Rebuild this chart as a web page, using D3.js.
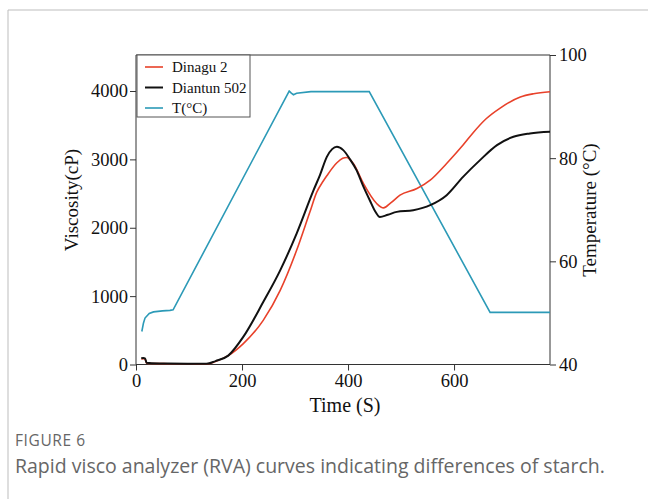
<!DOCTYPE html>
<html><head><meta charset="utf-8">
<script src="https://cdn.jsdelivr.net/npm/d3@7/dist/d3.min.js"></script>
<style>body{margin:0;background:#fff;} svg{display:block;}</style>
</head><body>
<svg id="chart" width="648" height="499"></svg>
<script>
// ---- data ----
const seriesNames = ["Dinagu 2", "Diantun 502", "T(\u00B0C)"];
const xTicks = [0, 200, 400, 600];
const yViscTicks = [0, 1000, 2000, 3000, 4000];
const yTempTicks = [40, 60, 80, 100];

const dinaguTime = [10,14,17,20,30,60,100,133,150,174,202,240,272,303,328,341,353,360,379,390,397,410,429,454,467,480,498,530,555,586,617,636,660,687,725,750,781];
const dinaguVisc = [80,85,80,20,15,12,10,8,45,130,302,645,1084,1670,2230,2520,2680,2760,2950,3015,3028,2940,2648,2355,2290,2360,2476,2573,2696,2940,3209,3390,3590,3750,3912,3960,3990];

const diantunTime = [10,14,17,20,30,60,100,133,150,174,202,240,272,303,335,347,360,370,379,391,403,416,428,441,452,460,475,492,523,555,586,617,649,681,712,743,781];
const diantunVisc = [90,95,90,25,18,15,12,10,50,130,400,913,1377,1915,2550,2770,3037,3150,3184,3135,3010,2842,2620,2403,2230,2158,2190,2232,2256,2330,2476,2744,2989,3209,3330,3379,3404];

const tempTime = [11,14,17,25,33,50,64,70,289,293,297,303,330,440,668,781];
const tempVal  = [46.4,48,49,49.9,50.2,50.4,50.5,50.6,93.0,92.6,92.3,92.6,92.9,92.9,50.1,50.1];

const colors = ["#e8412a", "#111111", "#2c9ab7"];

// ---- layout ----
const svg = d3.select("#chart");
const L = 136, R = 550, T = 55, B = 364.5;
const x = d3.scaleLinear().domain([0, 781]).range([L, R]);
const yV = d3.scaleLinear().domain([0, 4000]).range([B, 91]);
const yT = d3.scaleLinear().domain([40, 100]).range([B, T]);

// outer frame
svg.append("path").attr("d", "M8,499 L8,10 L648,10").attr("fill","none").attr("stroke","#bdbdbd").attr("stroke-width",1);

const serif = "'Liberation Serif','Times New Roman',serif";
const fmt = d3.format("d");

// top frame line
svg.append("line").attr("x1", L).attr("x2", R).attr("y1", T).attr("y2", T).attr("stroke","#333").attr("stroke-width",1);

// axes
const ax = svg.append("g").attr("transform", `translate(0,${B})`)
  .call(d3.axisBottom(x).tickValues(xTicks).tickFormat(fmt).tickSize(6).tickPadding(3));
const ayl = svg.append("g").attr("transform", `translate(${L},0)`)
  .call(d3.axisLeft(yV).tickValues(yViscTicks).tickFormat(fmt).tickSize(6).tickPadding(2));
const ayr = svg.append("g").attr("transform", `translate(${R},0)`)
  .call(d3.axisRight(yT).tickValues(yTempTicks).tickFormat(fmt).tickSize(6).tickPadding(3));
[ax, ayl, ayr].forEach(g => {
  g.selectAll("path.domain").remove();
  g.selectAll("line").attr("stroke", "#333");
  g.selectAll("text").style("font-family", serif).style("font-size", "18.5px").attr("fill", "#111");
});
// axis lines
svg.append("line").attr("x1", L).attr("x2", L).attr("y1", T).attr("y2", B).attr("stroke","#333");
svg.append("line").attr("x1", R).attr("x2", R).attr("y1", T).attr("y2", B).attr("stroke","#333");
svg.append("line").attr("x1", L).attr("x2", R).attr("y1", B).attr("y2", B).attr("stroke","#333");

// axis titles
svg.append("text").attr("x", 345).attr("y", 412).attr("text-anchor","middle")
  .style("font-family", serif).style("font-size", "20px").attr("fill","#111").text("Time (S)");
svg.append("text").attr("transform","translate(78,200) rotate(-90)").attr("text-anchor","middle")
  .style("font-family", serif).style("font-size", "19px").attr("fill","#111").text("Viscosity(cP)");
svg.append("text").attr("transform","translate(596,210) rotate(-90)").attr("text-anchor","middle")
  .style("font-family", serif).style("font-size", "19px").attr("fill","#111").text("Temperature (\u00B0C)");

// lines
const lineV = d3.line().x(d => x(d[0])).y(d => yV(d[1])).curve(d3.curveMonotoneX);
const lineT = d3.line().x(d => x(d[0])).y(d => yT(d[1]));

svg.append("path").datum(tempTime.map((t,i)=>[t,tempVal[i]]))
  .attr("d", lineT).attr("fill","none").attr("stroke", colors[2]).attr("stroke-width",1.6);
svg.append("path").datum(dinaguTime.map((t,i)=>[t,dinaguVisc[i]]))
  .attr("d", lineV).attr("fill","none").attr("stroke", colors[0]).attr("stroke-width",1.6);
svg.append("path").datum(diantunTime.map((t,i)=>[t,diantunVisc[i]]))
  .attr("d", lineV).attr("fill","none").attr("stroke", colors[1]).attr("stroke-width",2);

// legend
const lg = svg.append("g");
lg.append("rect").attr("x", 137).attr("y", 55).attr("width", 113).attr("height", 62)
  .attr("fill","#fff").attr("stroke","#555").attr("stroke-width",1);
seriesNames.forEach((n,i) => {
  const yy = 67 + i*20.5;
  lg.append("line").attr("x1",145).attr("x2",163).attr("y1",yy).attr("y2",yy)
    .attr("stroke", colors[i]).attr("stroke-width", i===1?2:1.6);
  lg.append("text").attr("x",172).attr("y",yy+5).style("font-family",serif).style("font-size","15px")
    .attr("fill","#111").text(n);
});

// caption
svg.append("text").attr("x",15).attr("y",446).style("font-family","'Open Sans',sans-serif")
  .style("font-size","15.5px").attr("fill","#666").attr("letter-spacing",0.6).text("FIGURE 6");
svg.append("text").attr("x",15).attr("y",473).style("font-family","'Open Sans',sans-serif")
  .style("font-size","19.5px").attr("fill","#666").text("Rapid visco analyzer (RVA) curves indicating differences of starch.");
</script>
</body></html>
